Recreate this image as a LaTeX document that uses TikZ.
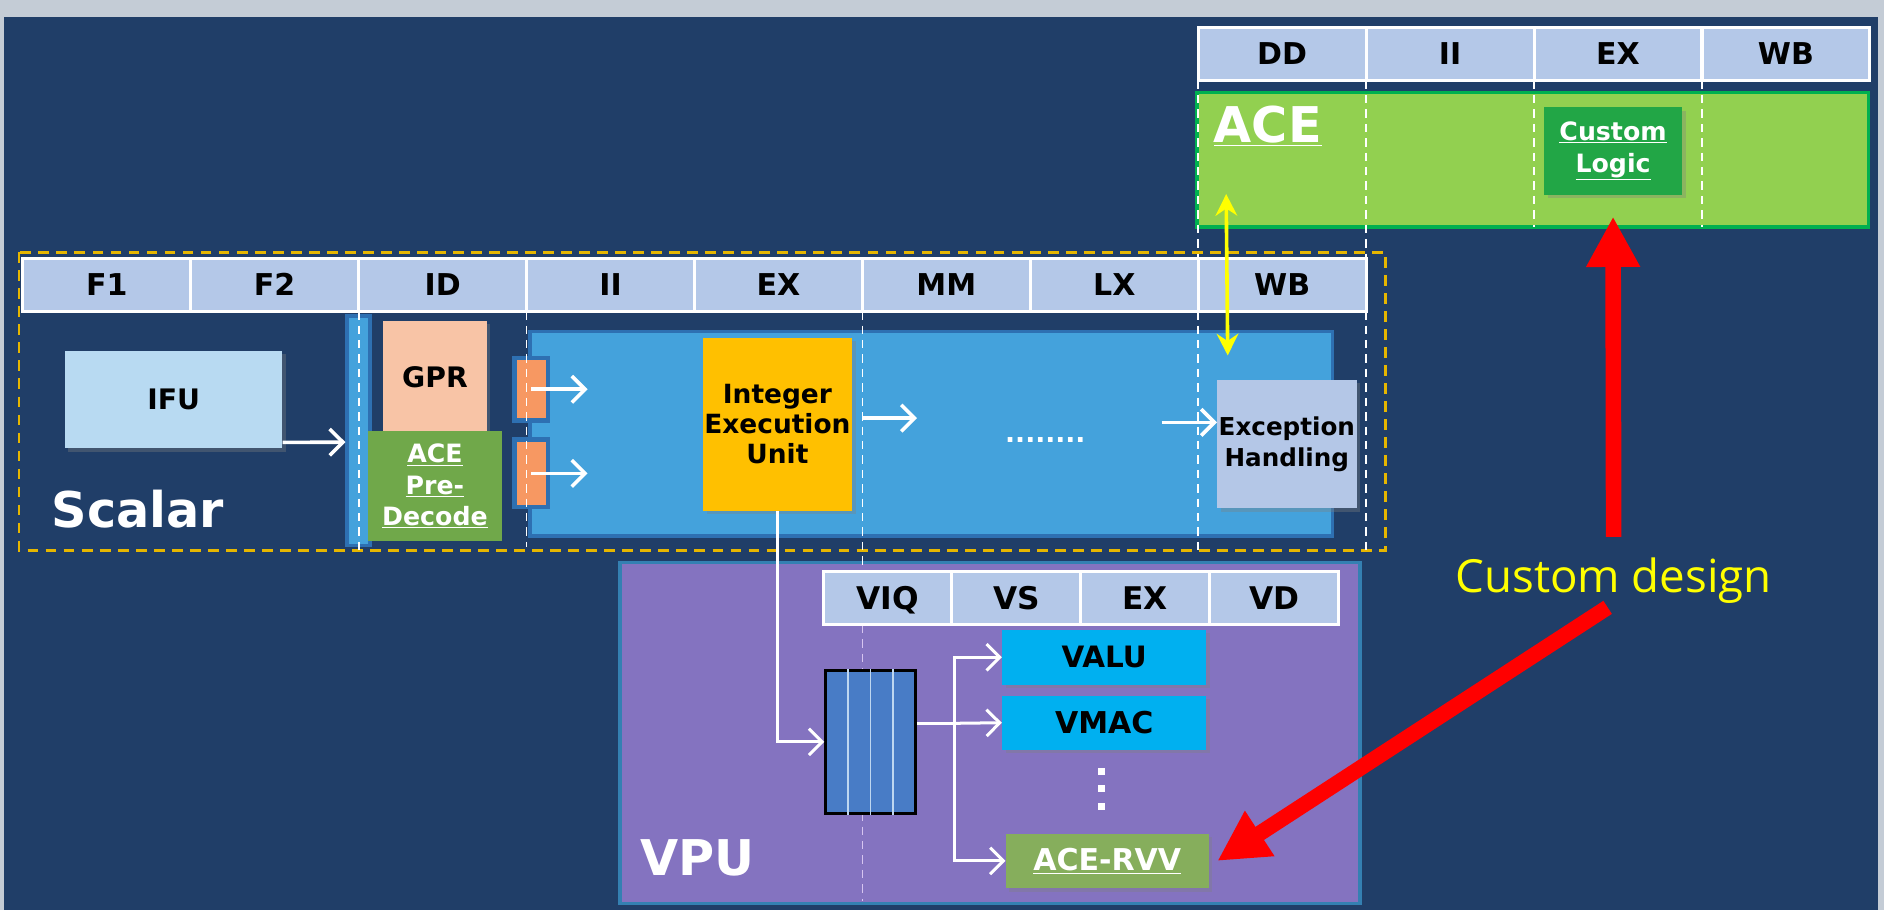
\documentclass[tikz,border=0pt]{standalone}
\usepackage{fontspec}
\usetikzlibrary{arrows.meta,shadows}
\newfontfamily\cfont{DejaVu Sans}
\newfontfamily\nfont{Open Sans}

\definecolor{navy}{RGB}{32,62,104}
\definecolor{rim}{RGB}{196,204,214}
\definecolor{hdrblue}{RGB}{180,200,232}
\definecolor{acegreen}{RGB}{146,208,80}
\definecolor{acerim}{RGB}{0,176,80}
\definecolor{logicgreen}{RGB}{34,166,70}
\definecolor{ifublue}{RGB}{184,218,242}
\definecolor{pipeblue}{RGB}{68,162,220}
\definecolor{piperim}{RGB}{46,112,178}
\definecolor{gprpink}{RGB}{248,196,166}
\definecolor{predgreen}{RGB}{112,168,74}
\definecolor{flop}{RGB}{247,152,98}
\definecolor{ieuyellow}{RGB}{255,192,0}
\definecolor{exclight}{RGB}{180,199,231}
\definecolor{vpupurple}{RGB}{132,115,192}
\definecolor{vpurim}{RGB}{52,128,178}
\definecolor{queueblue}{RGB}{72,124,198}
\definecolor{queueline}{RGB}{190,215,240}
\definecolor{valucyan}{RGB}{0,176,240}
\definecolor{rvvgreen}{RGB}{134,174,92}
\definecolor{lilac}{RGB}{214,196,240}
\definecolor{gold}{RGB}{230,182,0}
\definecolor{noteyellow}{RGB}{255,255,0}

\tikzset{
  stagecell/.style={draw=white, line width=2.5pt, fill=hdrblue, minimum height=44pt, inner sep=0pt, text height=18pt, text depth=0pt, font=\cfont\bfseries\fontsize{25}{25}\selectfont},
  blockbox/.style={rectangle, inner sep=0pt, align=center, font=\cfont\bfseries\fontsize{22}{26}\selectfont},
  boxshadow/.style={drop shadow={opacity=0.35, shadow xshift=3pt, shadow yshift=-3pt}},
  bigtitle/.style={text=white, inner sep=0pt, anchor=base west, font=\cfont\bfseries\fontsize{41}{41}\selectfont},
  phaseline/.style={draw=white, line width=1.5pt, dash pattern=on 7pt off 5pt},
  wline/.style={draw=white, line width=2.5pt},
  warrow/.style={draw=white, line width=3pt, -{Straight Barb[length=11pt,width=22pt]}},
  yarrow/.style={draw=noteyellow, line width=3pt, {Stealth[length=18pt,width=18pt,inset=6pt]}-{Stealth[length=18pt,width=18pt,inset=6pt]}},
  redarrow/.style={draw=red, line width=13pt, -{Triangle[length=42pt,width=42pt]}}
}

\begin{document}
\begin{tikzpicture}[x=1pt,y=-1pt]
    \useasboundingbox (0,0) rectangle (1568,757);
    \fill[rim] (0,0) rectangle (1568,757);
    \fill[navy] (3,14) rectangle (1563,757);

    \node[blockbox, draw=acerim, line width=3pt, fill=acegreen, minimum width=559pt, minimum height=112pt] (aceblock) at (1275.5,133) {};
    \node[blockbox, boxshadow, fill=logicgreen, text=white, minimum width=115pt, minimum height=73pt, font=\cfont\bfseries\fontsize{21}{27}\selectfont] (clogic) at (1342.5,125.5) {\underline{Custom}\\\underline{Logic}};

    \draw[gold, line width=2pt, dash pattern=on 9pt off 6pt] (16,210) rectangle (1153,458);

    \node[blockbox, draw=piperim, line width=3pt, fill=pipeblue, minimum width=668pt, minimum height=170pt] (pipe) at (775,361) {};
    \node[blockbox, boxshadow, fill=ifublue, minimum width=181pt, minimum height=81pt, font=\cfont\bfseries\fontsize{23.5}{26}\selectfont] (ifu) at (144.5,332.5) {IFU};
    \node[blockbox, draw=piperim, line width=3pt, fill=pipeblue, minimum width=19pt, minimum height=191pt] (bar) at (298.5,358.5) {};
    \node[blockbox, boxshadow, fill=gprpink, minimum width=86pt, minimum height=94pt, font=\cfont\bfseries\fontsize{23.5}{26}\selectfont] (gpr) at (362,314) {GPR};
    \node[blockbox, fill=predgreen, text=white, minimum width=112pt, minimum height=91pt, font=\cfont\bfseries\fontsize{21}{26}\selectfont] (predec) at (362,404.5) {\underline{ACE}\\\underline{Pre-}\\\underline{Decode}};
    \node[blockbox, draw=piperim, line width=4pt, fill=flop, minimum width=28pt, minimum height=52pt] (flop1) at (442,324) {};
    \node[blockbox, draw=piperim, line width=4pt, fill=flop, minimum width=28pt, minimum height=56pt] (flop2) at (442,394) {};
    \node[blockbox, boxshadow, fill=ieuyellow, minimum width=124pt, minimum height=144pt, font=\cfont\bfseries\fontsize{22}{25}\selectfont] (ieu) at (647,353) {Integer\\Execution\\Unit};
    \node[blockbox, text=white, font=\cfont\bfseries\fontsize{22}{22}\selectfont] (ellipsis) at (870,366) {........};
    \node[blockbox, boxshadow, fill=exclight, minimum width=116pt, minimum height=107pt, font=\cfont\bfseries\fontsize{20.5}{26}\selectfont] (exc) at (1071,369.5) {Exception\\Handling};

    \node[blockbox, draw=vpurim, line width=3pt, fill=vpupurple, minimum width=616pt, minimum height=284pt] (vpu) at (824,610) {};
    \draw[phaseline, draw=lilac] (717.75,520) -- (717.75,750);
    \node[blockbox, draw=black, line width=2pt, fill=queueblue, minimum width=75pt, minimum height=119pt] (queue) at (724.5,617.5) {};
    \draw[queueline, line width=1.5pt] ([xshift=-18.5pt]queue.north) -- ([xshift=-18.5pt]queue.south);
    \draw[queueline, line width=1.5pt] (queue.north) -- (queue.south);
    \draw[queueline, line width=1.5pt] ([xshift=18.5pt]queue.north) -- ([xshift=18.5pt]queue.south);
    \node[blockbox, boxshadow, fill=valucyan, minimum width=170pt, minimum height=46pt, font=\cfont\bfseries\fontsize{24.5}{26}\selectfont] (valu) at (919,547) {VALU};
    \node[blockbox, boxshadow, fill=valucyan, minimum width=170pt, minimum height=45pt, font=\cfont\bfseries\fontsize{25}{26}\selectfont] (vmac) at (919,601.5) {VMAC};
    \node[blockbox, boxshadow, fill=rvvgreen, text=white, minimum width=169pt, minimum height=45pt, font=\cfont\bfseries\fontsize{25}{26}\selectfont] (rvv) at (921.5,716.5) {\underline{ACE-RVV}};
    \fill[white] (914,639) rectangle (920,645);
    \fill[white] (914,653) rectangle (920,659);
    \fill[white] (914,668) rectangle (920,674);

    \draw[phaseline] (298.5,259) -- (298.5,458);
    \draw[phaseline] (438.25,259) -- (438.25,455);
    \draw[phaseline] (717.75,259) -- (717.75,470);
    \draw[phaseline] (997.25,67) -- (997.25,458);
    \draw[phaseline] (1137,67) -- (1137,458);
    \draw[phaseline] (1276.75,67) -- (1276.75,189);
    \draw[phaseline] (1416.5,67) -- (1416.5,189);

    \node[stagecell, minimum width=139.75pt] (f1) at (88.9,237) {F1};
    \node[stagecell, minimum width=139.75pt] (f2) at (228.6,237) {F2};
    \node[stagecell, minimum width=139.75pt] (id) at (368.4,237) {ID};
    \node[stagecell, minimum width=139.75pt] (ii) at (508.1,237) {II};
    \node[stagecell, minimum width=139.75pt] (ex) at (647.9,237) {EX};
    \node[stagecell, minimum width=139.75pt] (mm) at (787.6,237) {MM};
    \node[stagecell, minimum width=139.75pt] (lx) at (927.4,237) {LX};
    \node[stagecell, minimum width=139.75pt] (wb) at (1067.1,237) {WB};

    \node[stagecell, minimum width=139.75pt] (acedd) at (1067.1,45) {DD};
    \node[stagecell, minimum width=139.75pt] (aceii) at (1206.9,45) {II};
    \node[stagecell, minimum width=139.75pt] (aceex) at (1346.6,45) {EX};
    \node[stagecell, minimum width=139.75pt] (acewb) at (1486.4,45) {WB};

    \node[stagecell, minimum width=107.25pt, text height=19pt, font=\cfont\bfseries\fontsize{26}{26}\selectfont] (viq) at (738.6,498) {VIQ};
    \node[stagecell, minimum width=107.25pt, text height=19pt, font=\cfont\bfseries\fontsize{26}{26}\selectfont] (vs) at (845.9,498) {VS};
    \node[stagecell, minimum width=107.25pt, text height=19pt, font=\cfont\bfseries\fontsize{26}{26}\selectfont] (vex) at (953.1,498) {EX};
    \node[stagecell, minimum width=107.25pt, text height=19pt, font=\cfont\bfseries\fontsize{26}{26}\selectfont] (vd) at (1060.4,498) {VD};

    \node[bigtitle] (scalarlbl) at (43,439) {Scalar};
    \node[bigtitle] (vpulbl) at (533,729) {VPU};
    \node[bigtitle] (acelbl) at (1010,119) {\underline{ACE}};

    \draw[warrow] ([yshift=5pt]ifu.south east) -- ([yshift=-9.5pt]bar.west);
    \draw[warrow] (flop1.center) -- ([xshift=47pt]flop1.center);
    \draw[warrow] (flop2.center) -- ([xshift=47pt]flop2.center);
    \draw[warrow] ([xshift=9pt,yshift=5pt]ieu.east) -- ([xshift=54pt,yshift=5pt]ieu.east);
    \draw[warrow] ([xshift=-46pt,yshift=18pt]exc.west) -- ([yshift=18pt]exc.west);

    \draw[warrow, line width=2.5pt] (ieu.south) |- (queue.west);
    \coordinate (fork) at (794,602);
    \draw[wline] ([yshift=15.5pt]queue.east) -- (fork);
    \draw[warrow, line width=2.5pt] (fork) |- (valu.west);
    \draw[warrow, line width=2.5pt] (fork) -- (vmac.west);
    \draw[warrow, line width=2.5pt] (fork) |- (rvv.west);

    \draw[yarrow] ([xshift=26pt,yshift=29pt]aceblock.south west) -- ([xshift=9pt,yshift=20pt]exc.north west);

    \node[inner sep=0pt, text=noteyellow, font=\nfont\fontsize{38}{38}\selectfont] (cdesign) at (1343,483) {Custom design};
    \draw[redarrow, shorten <=17pt] (cdesign.north) -- ([yshift=-18pt]clogic.south);
    \draw[redarrow, shorten <=6pt] (cdesign.south) -- ([xshift=7pt]rvv.east);
\end{tikzpicture}
\end{document}
